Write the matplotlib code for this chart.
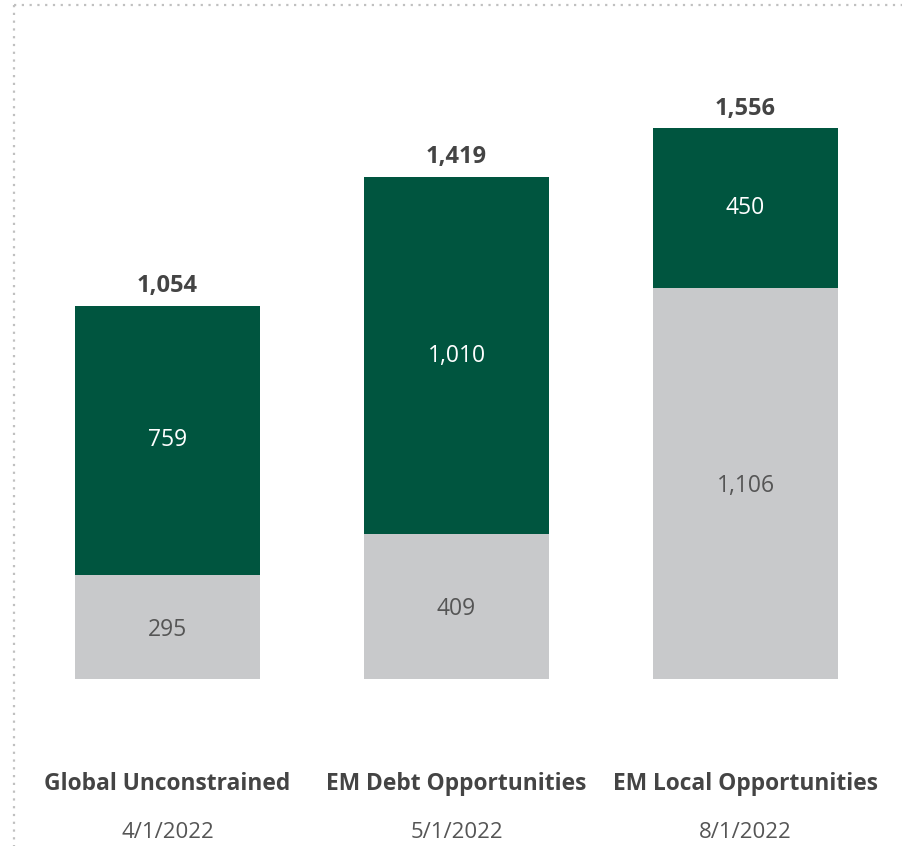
import matplotlib
matplotlib.use('Agg')
import matplotlib.pyplot as plt
from matplotlib.lines import Line2D

plt.rcParams['font.family'] = ['Open Sans', 'DejaVu Sans']

funds = ['Global Unconstrained', 'EM Debt Opportunities', 'EM Local Opportunities']
dates = ['4/1/2022', '5/1/2022', '8/1/2022']
grey_vals = [295, 409, 1106]
green_vals = [759, 1010, 450]
totals = [1054, 1419, 1556]

green = '#00553f'
grey = '#c8c9cb'
txt = '#444444'

W, H = 903, 846
fig = plt.figure(figsize=(W / 100, H / 100), dpi=100)

# pixel layout of the plot area
base_px = 679
px_per_unit = 0.3539
ax = fig.add_axes([0, (H - base_px) / H, 1, base_px / H])
ax.set_xlim(-167.5 / 289, (W - 167.5) / 289)
ax.set_ylim(0, base_px / px_per_unit)
ax.axis('off')

x = range(len(funds))
ax.bar(x, grey_vals, width=0.64, color=grey)
ax.bar(x, green_vals, bottom=grey_vals, width=0.64, color=green)

for i in x:
    g, r, t = grey_vals[i], green_vals[i], totals[i]
    ax.text(i, g / 2 - 8, f'{g:,}', ha='center', va='center', fontsize=16.5, color='#555555')
    ax.text(i, g + r / 2, f'{r:,}', ha='center', va='center', fontsize=16.5, color='white')
    ax.text(i, t + 22, f'{t:,}', ha='center', va='bottom', fontsize=17, fontweight='bold', color=txt)
    ax.text(i, (base_px - 784) / px_per_unit, funds[i], ha='center', va='center',
            fontsize=16.4, fontweight='bold', color=txt)
    ax.text(i, (base_px - 832) / px_per_unit, dates[i], ha='center', va='center',
            fontsize=16, color='#555555')

# dotted frame on top and left
fig.add_artist(Line2D([14 / W, 1], [1 - 5 / H, 1 - 5 / H], color='#c0c0c0', lw=1.6, ls=(0, (1, 2.5))))
fig.add_artist(Line2D([14 / W, 14 / W], [1 - 5 / H, 0], color='#c0c0c0', lw=1.6, ls=(0, (1, 2.5))))

fig.savefig('out.png', dpi=100)
